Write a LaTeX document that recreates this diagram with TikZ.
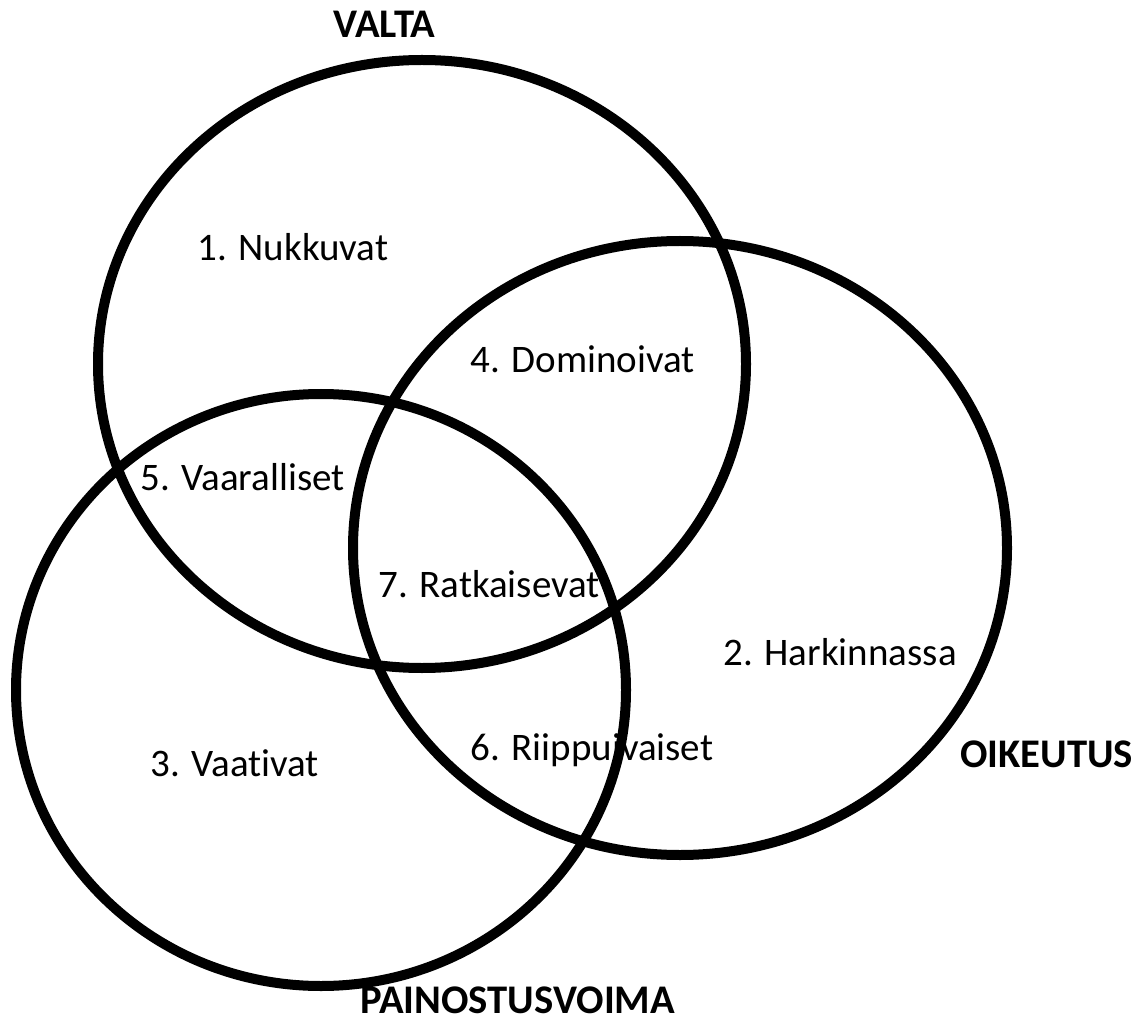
\documentclass[tikz,border=0pt]{standalone}
\usepackage{fontspec}
\setmainfont{Carlito}[Ligatures=NoCommon]
\usepackage{tikz}
\usetikzlibrary{positioning}

\begin{document}
\begin{tikzpicture}[x=0.75pt, y=-0.75pt,
    ring/.style={draw=black, line width=7.5pt},
    area/.style={anchor=base west, inner sep=0pt, font=\fontsize{29.25}{35}\selectfont},
    title/.style={anchor=base west, inner sep=0pt, font=\fontsize{30.5}{36}\selectfont\bfseries}]
  \useasboundingbox (0,0) rectangle (1142,1023);

  % names of the three sets
  \node[title] (valta) at (333,38) {VALTA};
  \node[title] (oikeutus) at (960,767) {OIKEUTUS};
  \node[title] (painostus) at (360,1013) {PAINOSTUSVOIMA};

  % the seven areas
  \node[area] (nukkuvat) at (197,261) {1. Nukkuvat};
  \node[area] (harkinnassa) at (723,665) {2. Harkinnassa};
  \node[area] (vaativat) at (150,776) {3. Vaativat};
  \node[area] (dominoivat) at (470,373) {4. Dominoivat};
  \node[area] (vaaralliset) at (140,490) {5. Vaaralliset};
  \node[area] (riippuvaiset) at (470,760) {6. Riippuivaiset};
  \node[area] (ratkaisevat) at (378,597) {7. Ratkaisevat};

  % circles
  \draw[ring] (422,364) ellipse (324 and 304);
  \draw[ring] (680,548) ellipse (327 and 307);
  \draw[ring] (321,690) ellipse (305 and 296);
\end{tikzpicture}
\end{document}
